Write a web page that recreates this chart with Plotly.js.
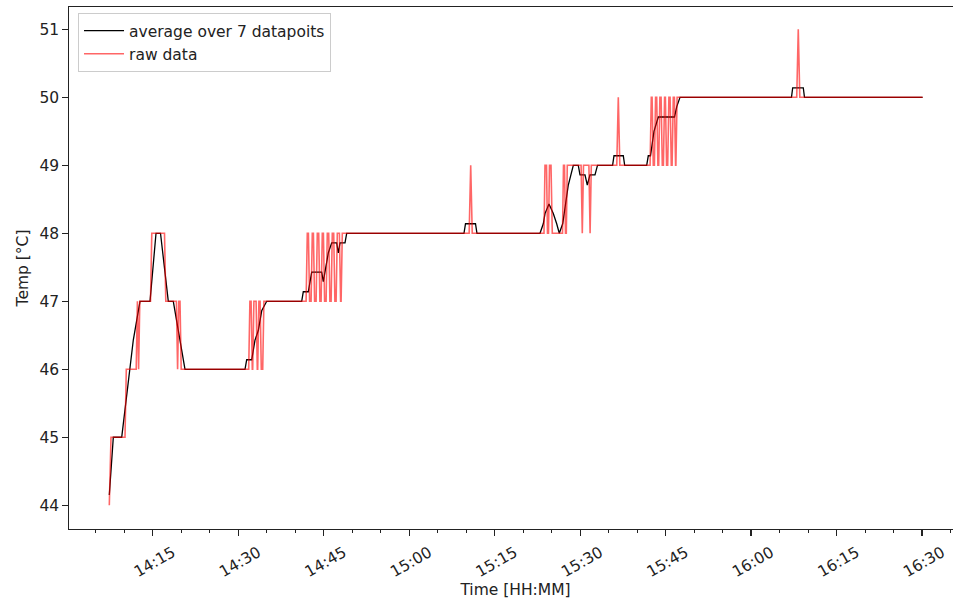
<!DOCTYPE html>
<html>
<head>
<meta charset="utf-8">
<script src="https://cdn.plot.ly/plotly-3.0.1.min.js"></script>
<style>
html, body { margin:0; padding:0; overflow:hidden; background:#fff; }
#chart { width:966px; height:605px; }
</style>
</head>
<body>
<div id="chart"></div>
<script>
// Times are minutes after 14:00 on the measurement day
const rawMinutes = [
  7.385, 7.683, 10.139, 10.368, 12.105, 12.315, 12.526, 12.736, 14.614, 14.842, 17.071, 17.299, 19.159, 19.369, 19.580, 19.790, 20.001,
  31.845, 32.056, 32.266, 32.477, 32.547, 32.758, 33.144, 33.354, 33.424, 33.635, 33.846, 34.056, 34.302, 34.512,
  41.917, 42.128, 42.321, 42.531, 42.794, 43.005, 43.198, 43.409, 43.672, 43.882, 44.128, 44.339, 44.549, 44.760, 44.953, 45.163,
  45.427, 45.637, 45.883, 46.093, 46.304, 46.514, 46.760, 46.971, 47.181, 47.392, 47.760, 47.971, 48.059, 48.269,
  70.53, 70.80, 71.07,
  83.661, 83.837, 84.100, 84.276, 84.451, 84.627, 84.890, 85.118, 86.908, 87.083, 87.259, 87.434, 87.575, 87.750,
  90.172, 90.382, 90.593, 91.540, 91.751, 91.961,
  96.43, 96.70, 96.97,
  102.279, 102.490, 102.630, 102.840, 103.033, 103.244, 103.437, 103.647, 103.788, 103.998, 104.209, 104.420, 104.613,
  104.823, 104.963, 105.174, 105.367, 105.578, 105.788, 105.999, 106.139, 106.350, 106.543, 106.753, 106.806, 107.017,
  128.01, 128.28, 128.55,
  150.1
];
const rawTemps = [
  44, 45, 45, 46, 46, 47, 46, 47, 47, 48, 48, 47, 47, 46, 47, 47, 46,
  46, 47, 47, 46, 46, 47, 47, 46, 46, 47, 47, 46, 46, 47,
  47, 48, 48, 47, 47, 48, 48, 47, 47, 48, 48, 47, 47, 48, 48, 47,
  47, 48, 48, 47, 47, 48, 48, 47, 47, 48, 48, 47, 47, 48,
  48, 49, 48,
  48, 49, 49, 48, 48, 49, 49, 48, 48, 49, 49, 48, 48, 49,
  49, 48, 49, 49, 48, 49,
  49, 50, 49,
  49, 50, 50, 49, 49, 50, 50, 49, 49, 50, 50, 49, 49,
  50, 50, 49, 49, 50, 50, 49, 49, 50, 50, 49, 49, 50,
  50, 51, 50,
  50
];
const avgMinutes = [
  7.385, 8.09, 9.56, 10.894, 11.596, 12.77, 14.53, 15.58, 16.37, 17.737, 18.615, 20.668,
  31.196, 31.494, 32.371, 32.95, 33.53, 34.126, 35.003, 41.145, 41.426, 42.303, 42.9, 44.654, 44.935, 45.812, 46.41, 47.287, 47.567, 47.866, 48.743, 49.04,
  69.62, 69.89, 71.64, 71.90,
  82.96, 83.539, 83.837, 84.539, 85.293, 85.890, 86.346, 86.943, 87.926, 88.803, 89.680, 89.978, 90.856, 91.259, 91.733, 92.610, 93.049,
  95.70, 95.944, 97.576, 97.82,
  101.682, 101.963, 102.349, 102.963, 103.718, 106.560, 106.946, 107.525,
  127.09, 127.30, 129.16, 129.37, 150.1
];
const avgTemps = [
  44.15, 45, 45, 46, 46.43, 47, 47, 48, 48, 47, 47, 46,
  46, 46.14, 46.14, 46.43, 46.57, 46.86, 47, 47, 47.14, 47.14, 47.43, 47.43, 47.29, 47.71, 47.86, 47.86, 47.71, 47.86, 47.86, 48,
  48, 48.14, 48.14, 48,
  48, 48.14, 48.29, 48.43, 48.29, 48.14, 48, 48.14, 48.71, 49, 49, 48.86, 48.86, 48.71, 48.86, 48.86, 49,
  49, 49.14, 49.14, 49,
  49, 49.14, 49.14, 49.5, 49.71, 49.71, 49.86, 50,
  50, 50.14, 50.14, 50, 50
];
const yTicks = [44, 45, 46, 47, 48, 49, 50, 51];
const seriesNames = ['average over 7 datapoits', 'raw data'];
const xTitle = 'Time [HH:MM]';
const yTitle = 'Temp [°C]';

const BASE = Date.UTC(2021, 0, 1, 14, 0, 0);
function toDate(m) {
  return new Date(BASE + m * 60000).toISOString().replace('T', ' ').replace('Z', '');
}

const FONT = 'DejaVu Sans, sans-serif';
const FS = 15.5;
const AX = '#222222';

const traces = [
  {
    x: avgMinutes.map(toDate), y: avgTemps, type: 'scatter', mode: 'lines',
    name: seriesNames[0], line: {color: '#000000', width: 1.3}, hoverinfo: 'skip'
  },
  {
    x: rawMinutes.map(toDate), y: rawTemps, type: 'scatter', mode: 'lines',
    name: seriesNames[1], line: {color: '#ff0000', width: 1.6}, opacity: 0.6, hoverinfo: 'skip'
  }
];

const layout = {
  width: 966, height: 605,
  margin: {l: 69, r: 4, t: 7, b: 76},
  paper_bgcolor: '#ffffff', plot_bgcolor: '#ffffff',
  font: {family: FONT, size: FS, color: AX},
  showlegend: true,
  legend: {
    x: 0.0101, y: 0.9885, xanchor: 'left', yanchor: 'top',
    bgcolor: 'rgba(255,255,255,0.8)', bordercolor: '#cccccc', borderwidth: 1,
    itemwidth: 40,
    font: {family: FONT, size: FS, color: AX}
  },
  xaxis: {
    type: 'date',
    range: [toDate(0.313), toDate(157.01)],
    tickformat: '%H:%M',
    tick0: toDate(0), dtick: 15 * 60000,
    ticks: 'outside', ticklen: 5.5, tickwidth: 1.2, tickcolor: AX,
    tickangle: -30, ticklabelshift: 20, ticklabelstandoff: 2,
    showline: true, linecolor: AX, linewidth: 1.2, mirror: true,
    showgrid: false, zeroline: false,
    minor: {tick0: toDate(0), dtick: 5 * 60000, ticks: 'outside', ticklen: 3, tickwidth: 1, tickcolor: AX, showgrid: false},
    title: {text: xTitle, font: {family: FONT, size: FS}, standoff: 3},
    fixedrange: true
  },
  yaxis: {
    range: [43.651, 51.328],
    tickvals: yTicks, ticktext: yTicks.map(String),
    ticks: 'outside', ticklen: 5.5, tickwidth: 1.2, tickcolor: AX,
    showline: true, linecolor: AX, linewidth: 1.2, mirror: true,
    showgrid: false, zeroline: false,
    title: {text: yTitle, font: {family: FONT, size: FS}},
    fixedrange: true
  }
};

Plotly.newPlot('chart', traces, layout, {displayModeBar: false, staticPlot: true});
</script>
</body>
</html>
